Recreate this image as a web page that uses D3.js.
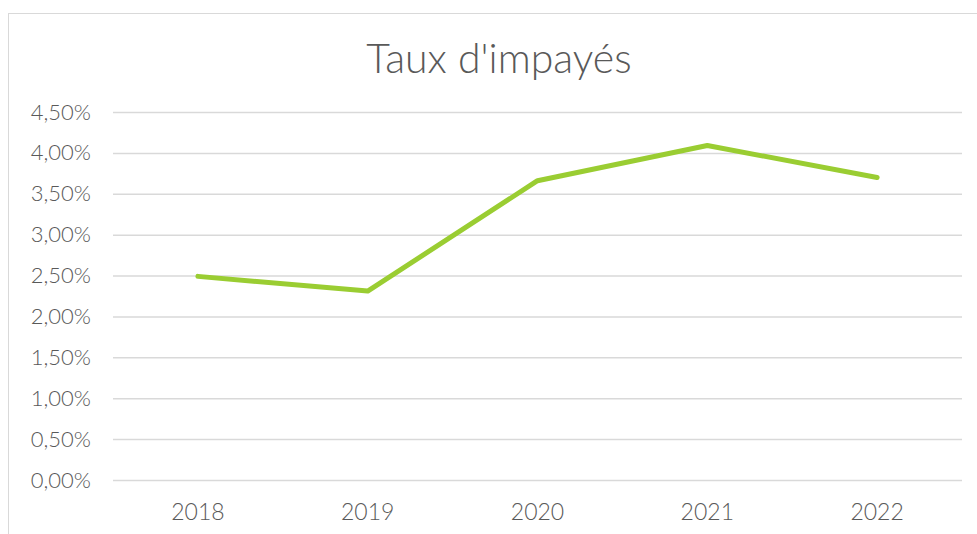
<!DOCTYPE html>
<html lang="fr">
<head>
<meta charset="utf-8" />
<script src="https://d3js.org/d3.v7.min.js"></script>
<style>
  body { margin: 0; background: #fff; }
  svg text { font-family: "Lato", "Noto Sans", sans-serif; font-weight: 300; fill: #595959; }
</style>
</head>
<body>
<div id="chart"></div>
<script>
const years = ['2018', '2019', '2020', '2021', '2022'];
const rates = [2.49, 2.31, 3.66, 4.09, 3.70];
const yTicks = [0, 0.5, 1, 1.5, 2, 2.5, 3, 3.5, 4, 4.5];
const title = "Taux d'impayés";

const width = 977, height = 534;
const plotLeft = 113, plotRight = 962, plotTop = 112, plotBottom = 480;

const svg = d3.select('#chart').append('svg')
  .attr('width', width)
  .attr('height', height);

// chart border
svg.append('rect')
  .attr('x', 8.5).attr('y', 13.5)
  .attr('width', 1000).attr('height', 600)
  .attr('fill', 'none')
  .attr('stroke', '#d9d9d9');

svg.append('text')
  .attr('x', 499).attr('y', 73)
  .attr('text-anchor', 'middle')
  .style('font-size', '41px')
  .text(title);

const x = d3.scaleBand().domain(years).range([plotLeft, plotRight]);
const y = d3.scaleLinear().domain([0, 4.5]).range([plotBottom, plotTop]);

const fmt = v => v.toFixed(2).replace('.', ',') + '%';

const yAxis = svg.append('g')
  .attr('transform', `translate(${plotLeft},0)`)
  .call(d3.axisLeft(y).tickValues(yTicks).tickFormat(fmt).tickSize(-(plotRight - plotLeft)).tickPadding(22));
yAxis.select('.domain').remove();
yAxis.selectAll('line').attr('stroke', '#d9d9d9').attr('stroke-width', 1.5);
yAxis.selectAll('text').style('font-size', '22px').attr('fill', '#595959');

const xAxis = svg.append('g')
  .attr('transform', `translate(0,${plotBottom})`)
  .call(d3.axisBottom(x).tickSize(0).tickPadding(24));
xAxis.select('.domain').remove();
xAxis.selectAll('text').style('font-size', '23px').attr('fill', '#595959');

const line = d3.line()
  .x((d, i) => x(years[i]) + x.bandwidth() / 2)
  .y(d => y(d));

svg.append('path')
  .datum(rates)
  .attr('d', line)
  .attr('fill', 'none')
  .attr('stroke', '#9acd32')
  .attr('stroke-width', 5)
  .attr('stroke-linecap', 'round')
  .attr('stroke-linejoin', 'round');
</script>
</body>
</html>
